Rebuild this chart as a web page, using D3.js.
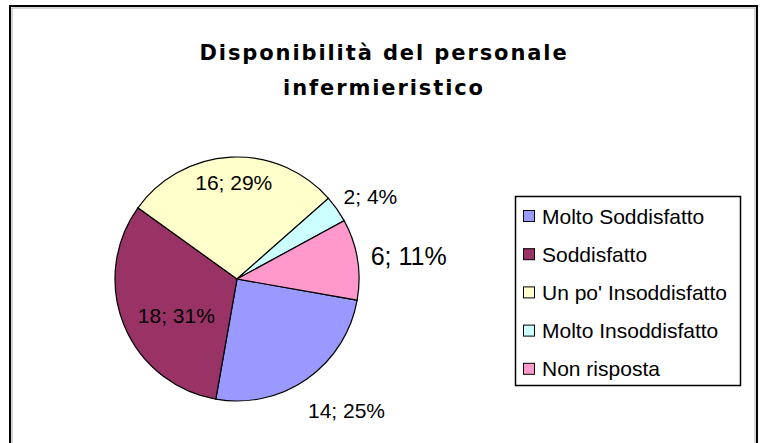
<!DOCTYPE html>
<html>
<head>
<meta charset="utf-8">
<script src="https://cdn.jsdelivr.net/npm/d3@7"></script>
<style>
  body { margin: 0; background: #fff; }
  text { font-family: "Liberation Sans", Arial, sans-serif; fill: #000; }
</style>
</head>
<body>
<svg></svg>
<script>
const titleLines = ['Disponibilità del personale', 'infermieristico']
const categories = ['Molto Soddisfatto', 'Soddisfatto', "Un po' Insoddisfatto", 'Molto Insoddisfatto', 'Non risposta']
const values = [14, 18, 16, 2, 6]
const percents = [25, 31, 29, 4, 11]
const colors = ['#9999FF', '#993366', '#FFFFCC', '#CCFFFF', '#FF99CC']

const data = categories.map((c, i) => ({
  name: c, value: values[i], pct: percents[i], color: colors[i]
}))

const [svgWidth, svgHeight] = [765, 443]
const svg = d3.select('svg').attr('width', svgWidth).attr('height', svgHeight)

// chart frame
svg.append('rect')
  .attr('x', 10).attr('y', 6).attr('width', 747).attr('height', 470)
  .attr('fill', '#fff').attr('stroke', '#000').attr('stroke-width', 2)
svg.append('rect')
  .attr('x', 12).attr('y', 8).attr('width', 743).attr('height', 470)
  .attr('fill', 'none').attr('stroke', '#aaa').attr('stroke-width', 1)

// title
svg.append('g').selectAll('text').data(titleLines).enter().append('text')
  .attr('x', 384)
  .attr('y', (d, i) => 60 + i * 35)
  .attr('text-anchor', 'middle')
  .style('font-family', '"DejaVu Sans", sans-serif')
  .style('font-size', '21px')
  .style('font-weight', 'bold')
  .style('letter-spacing', '1.9px')
  .text(d => d)

// pie
const cx = 237, cy = 279, r = 122
const startAngle = 100 * Math.PI / 180
const pie = d3.pie().sort(null).value(d => d.value)
  .startAngle(startAngle).endAngle(startAngle + 2 * Math.PI)
const arc = d3.arc().innerRadius(0).outerRadius(r)
const arcs = pie(data)

const pieG = svg.append('g').attr('transform', `translate(${cx}, ${cy})`)
pieG.selectAll('path').data(arcs).enter().append('path')
  .attr('d', arc)
  .attr('fill', d => d.data.color)
  .attr('stroke', '#000')
  .attr('stroke-width', 1.2)

// labels: largest slices inside, others outside
const labels = pieG.selectAll('text.lbl').data(arcs).enter().append('text')
  .attr('class', 'lbl')
  .attr('text-anchor', 'middle')
  .style('font-size', d => d.data.value === 6 ? '25px' : '21px')
  .text(d => `${d.data.value}; ${d.data.pct}%`)

labels.each(function (d) {
  const fs = d.data.value === 6 ? 25 : 21
  const w = this.getComputedTextLength()
  const h = fs * 0.72
  const a = (d.startAngle + d.endAngle) / 2
  const s = Math.sin(a), c = Math.cos(a)
  const inside = d.data.pct > 26
  const R = inside ? r - 18 : r + 14 + 20 * Math.max(0, -c)
  const dir = inside ? -1 : 1
  const x = s * R + dir * s * w / 2
  const y = -c * R - dir * c * h / 2
  d3.select(this).attr('x', x).attr('y', y + h / 2)
})

// legend
const lg = svg.append('g')
lg.append('rect')
  .attr('x', 515.5).attr('y', 196.5).attr('width', 225).attr('height', 189)
  .attr('fill', '#fff').attr('stroke', '#000').attr('stroke-width', 1.5)

const rows = lg.selectAll('g.row').data(data).enter().append('g')
  .attr('class', 'row')
  .attr('transform', (d, i) => `translate(523, ${216 + i * 38.2})`)
rows.append('rect')
  .attr('x', 0.5).attr('y', -5.5).attr('width', 11).attr('height', 11)
  .attr('fill', d => d.color).attr('stroke', '#000').attr('stroke-width', 1)
rows.append('text')
  .attr('x', 19).attr('y', 7.5)
  .style('font-size', '21px')
  .text(d => d.name)
</script>
</body>
</html>
